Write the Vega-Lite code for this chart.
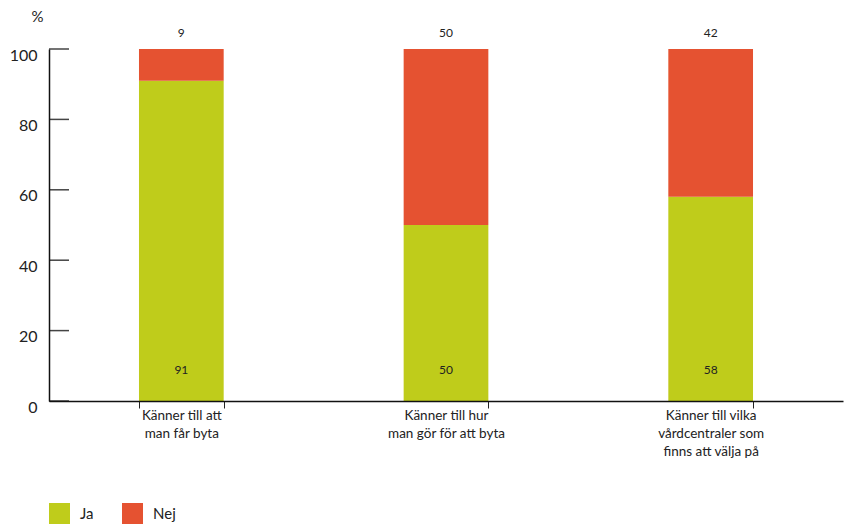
{
  "$schema": "https://vega.github.io/schema/vega-lite/v6.json",
  "width": 794,
  "height": 352,
  "autosize": {"type": "none"},
  "padding": {"left": 49, "top": 49, "right": 1, "bottom": 124},
  "background": "white",
  "config": {
    "view": {"stroke": null},
    "font": "Lato",
    "axis": {"labelFont": "Lato", "titleFont": "Lato"}
  },
  "datasets": {
    "svar": [
      {"kat": "Känner till att|man får byta", "svar": "Ja", "andel": 91, "ord": 1},
      {"kat": "Känner till att|man får byta", "svar": "Nej", "andel": 9, "ord": 2},
      {"kat": "Känner till hur|man gör för att byta", "svar": "Ja", "andel": 50, "ord": 1},
      {"kat": "Känner till hur|man gör för att byta", "svar": "Nej", "andel": 50, "ord": 2},
      {"kat": "Känner till vilka|vårdcentraler som|finns att välja på", "svar": "Ja", "andel": 58, "ord": 1},
      {"kat": "Känner till vilka|vårdcentraler som|finns att välja på", "svar": "Nej", "andel": 42, "ord": 2}
    ],
    "ticks": [{"v": 0}, {"v": 20}, {"v": 40}, {"v": 60}, {"v": 80}, {"v": 100}]
  },
  "layer": [
    {
      "data": {"name": "svar"},
      "mark": {"type": "bar"},
      "encoding": {
        "x": {
          "field": "kat",
          "type": "nominal",
          "sort": null,
          "scale": {"paddingInner": 0.68, "paddingOuter": 0.34},
          "axis": {
            "title": null,
            "labelAngle": 0,
            "labelExpr": "split(datum.label, '|')",
            "labelFontSize": 13.5,
            "labelColor": "#222",
            "labelLineHeight": 18,
            "labelPadding": 0,
            "tickBand": "extent",
            "tickSize": 7,
            "tickColor": "#222",
            "domainColor": "#111",
            "domainWidth": 1.5,
            "zindex": 1
          }
        },
        "y": {
          "field": "andel",
          "type": "quantitative",
          "stack": "zero",
          "scale": {"domain": [0, 100]},
          "axis": {
            "title": "%",
            "values": [0, 20, 40, 60, 80, 100],
            "titleAngle": 0,
            "titleX": -6,
            "titleY": -25,
            "titleFontSize": 15,
            "titleFontWeight": "normal",
            "titleColor": "#222",
            "titleAlign": "right",
            "ticks": false,
            "grid": false,
            "labelFontSize": 16,
            "labelColor": "#222",
            "labelPadding": 12,
            "labelOffset": 6,
            "domainColor": "#111",
            "domainWidth": 1.5,
            "zindex": 1
          }
        },
        "color": {
          "field": "svar",
          "type": "nominal",
          "scale": {"domain": ["Ja", "Nej"], "range": ["#bfcc1b", "#e55231"]},
          "legend": {
            "title": null,
            "orient": "none",
            "legendX": 0,
            "legendY": 454,
            "direction": "horizontal",
            "symbolType": "square",
            "symbolSize": 441,
            "symbolStrokeWidth": 0,
            "labelFontSize": 15,
            "labelColor": "#222",
            "labelOffset": 10,
            "columnPadding": 28
          }
        },
        "order": {"field": "ord"}
      }
    },
    {
      "data": {"name": "svar"},
      "transform": [{"filter": "datum.svar == 'Nej'"}],
      "mark": {"type": "text", "fontSize": 12, "color": "#222", "dy": -16},
      "encoding": {
        "x": {"field": "kat", "type": "nominal", "sort": null},
        "y": {"datum": 100},
        "text": {"field": "andel"}
      }
    },
    {
      "data": {"name": "svar"},
      "transform": [{"filter": "datum.svar == 'Ja'"}],
      "mark": {"type": "text", "fontSize": 12, "color": "#222", "dy": -31},
      "encoding": {
        "x": {"field": "kat", "type": "nominal", "sort": null},
        "y": {"datum": 0},
        "text": {"field": "andel"}
      }
    },
    {
      "data": {"name": "ticks"},
      "mark": {"type": "rule", "color": "#444444", "strokeWidth": 1.5},
      "encoding": {
        "y": {"field": "v", "type": "quantitative"},
        "x": {"value": 0},
        "x2": {"value": 20}
      }
    }
  ]
}
